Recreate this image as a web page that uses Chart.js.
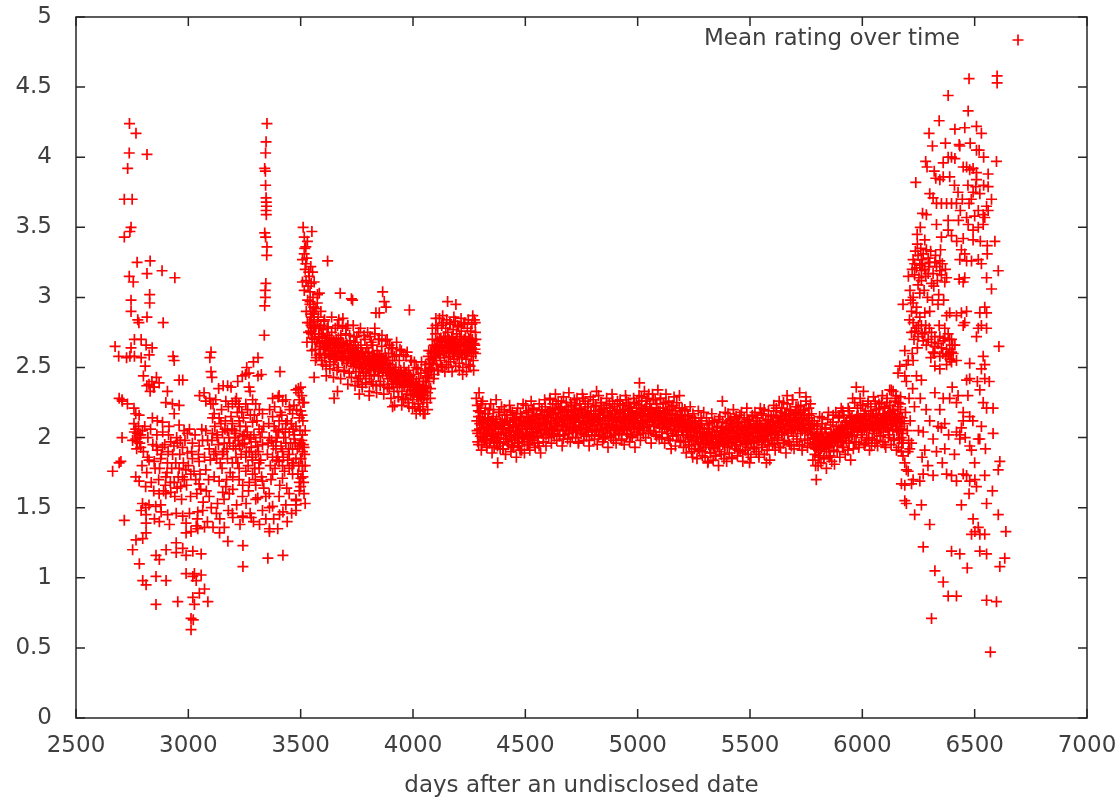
<!DOCTYPE html>
<html>
<head>
<meta charset="utf-8">
<title>Mean rating over time</title>
<script src="https://cdn.jsdelivr.net/npm/chart.js@4.4.1/dist/chart.umd.min.js"></script>
<style>
  html, body { margin: 0; padding: 0; background: #fff; }
</style>
</head>
<body>
<canvas id="ratingChart" width="1120" height="802"></canvas>
<script>
// axis ticks
const xTicks = [2500, 3000, 3500, 4000, 4500, 5000, 5500, 6000, 6500, 7000];
const yTicks = [0, 0.5, 1, 1.5, 2, 2.5, 3, 3.5, 4, 4.5, 5];
const seriesLabel = "Mean rating over time";
const xTitle = "days after an undisclosed date";

// [day, mean rating], one array per stretch of days
const earlyPoints = [
  [2663,1.76],[2674,2.65],[2690,2.58],[2700,1.83],[2705,2.00],[2705,2.27],[2715,1.41],
  [2738,4.24],[2767,4.17],[2737,4.03],[2816,4.02],[2730,3.92],[2715,3.70],[2750,3.70],[2745,3.50],[2715,3.43],[2740,3.47],
  [2772,3.25],[2830,3.26],[2816,3.17],[2883,3.19],[2940,3.14],[2737,3.15],[2755,3.11],[2745,2.98],[2828,3.02],[2828,2.96],
  [2745,2.90],[2775,2.84],[2780,2.82],[2816,2.86],[2888,2.82],
  [2745,2.64],[2760,2.70],[2790,2.70],[2839,2.64],[2812,2.66],[2725,2.57],[2740,2.58],[2760,2.58],[2790,2.57],[2826,2.59],
  [2808,2.51],[2800,2.44],[2838,2.40],[2815,2.37],[2858,2.43],[2845,2.36],[2830,2.33],
  [2932,2.58],[2937,2.55],[2975,2.41],[3101,2.61],[3096,2.57],[3101,2.47],[3105,2.43],[3070,2.32],
  // main cluster
  [2692,2.28],[2706,2.26],[2729,2.24],[2758,2.21],[2766,2.17],[2781,2.16],
  [2758,2.10],[2766,2.06],[2773,2.03],[2781,2.00],[2766,1.99],[2788,2.02],[2773,1.97],[2796,2.05],
  [2788,1.93],[2692,1.82],[2766,1.72],[2781,1.69],[2810,1.65],[2796,1.53],[2810,1.50],[2825,1.52],
  [2825,2.38],[2848,2.36],[2870,2.39],[2907,2.33],[2959,2.41],
  [2840,2.14],[2862,2.12],[2885,2.11],[2914,2.08],
  [2900,2.25],[2929,2.24],[2959,2.23],[2937,2.17],
  [2825,1.84],[2848,1.83],[2877,1.85],[2862,1.91],[2885,1.93],
  [2907,1.82],[2944,1.82],[2959,1.78],
  [2900,1.72],[2937,1.68],[2974,1.72],[2966,1.65],
  [2870,1.60],[2900,1.60],[2922,1.61],[2877,1.52],[2855,1.51],
  [2959,2.09],[2981,2.05],[2996,2.03],[2922,1.97],[2951,1.96],[2974,1.93],
  [2989,1.77],[3011,1.74],[3033,1.70],[3048,1.67],[3055,1.63],
  [2996,1.89],[3018,1.85],[3048,1.83],
  [3018,1.96],[3048,1.94],[3063,1.98],
  [3078,2.26],[3100,2.24],[3122,2.27],[3115,2.17],[3137,2.14],
  [3078,2.05],[3107,2.03],[3130,2.00],[3152,2.04],[3174,2.05],
  [3093,1.92],[3122,1.90],[3152,1.88],[3174,1.85],[3196,1.82],
  [3078,1.77],[3115,1.72],[3137,1.69],[3167,1.65],[3182,1.60],
  [3093,1.58],[3130,1.53],[3159,1.56],
  [3167,2.26],[3196,2.24],[3226,2.22],[3256,2.24],[3286,2.27],
  [3211,2.03],[3241,2.01],[3271,1.99],[3300,1.97],[3330,1.95],
  [3256,1.86],[3286,1.84],[3315,1.82],
  [3226,1.70],[3271,1.68],[3300,1.66],[3330,1.69],
  [3241,1.58],[3300,1.56],[3345,1.58],[3196,1.46],[3241,1.44],
  [3196,2.10],[3226,2.12],[3256,2.08],[3286,2.11],[3315,2.06],[3211,1.92],[3241,1.95],[3271,1.90],[3300,1.88],
  [3226,1.78],[3256,1.76],[3286,1.74],[3315,1.78],
  [3375,2.28],[3404,2.30],[3434,2.27],[3479,2.34],[3494,2.27],
  [3375,2.15],[3404,2.12],[3434,2.10],[3464,2.17],[3494,2.14],
  [3360,2.00],[3390,1.97],[3434,1.96],[3471,1.99],[3494,1.94],[3508,2.02],
  [3375,1.86],[3404,1.83],[3449,1.88],[3479,1.85],[3508,1.80],
  [3375,1.74],[3419,1.71],[3464,1.74],[3494,1.68],[3501,1.71],
  [3360,1.60],[3404,1.58],[3449,1.60],[3479,1.56],[3494,1.62],
  [3375,1.51],[3434,1.52],[3479,1.48],
  [3390,2.05],[3419,2.06],[3449,2.04],[3479,2.08],[3508,1.90],[3419,1.90],[3390,1.92],[3464,1.92],[3508,1.76],[3419,1.80],[3449,1.78],
  [3095,2.28],[3110,2.24],[3155,2.37],[3175,2.37],[3190,2.36],[3270,2.36],[3275,2.33],[3290,2.54],[3310,2.57],
  [3270,2.46],[3255,2.45],[3240,2.44],[3310,2.44],[3325,2.45],[3408,2.47],[3490,2.35],[3490,2.32],[3510,2.25],
  [3400,2.29],[3420,2.26],[3450,2.22],[3470,2.23],[3210,2.26],[3225,2.24],[3300,2.24],[3330,2.17],
  [3500,2.36],[3505,2.30],[3515,2.25],[3500,2.19],[3510,2.12],[3520,2.05],[3505,1.98],[3515,1.93],
  [3500,1.85],[3520,1.80],[3510,1.72],[3500,1.65],[3515,1.60],[3520,1.53],
  // lower tail
  [2790,1.48],[2812,1.45],[2849,1.42],[2879,1.47],[2908,1.45],[2946,1.46],[2975,1.44],[3005,1.46],[3042,1.47],[3064,1.48],
  [2812,1.39],[2871,1.40],[2916,1.38],[2990,1.39],[3035,1.37],
  [2990,1.32],[3012,1.33],[3042,1.35],[3072,1.36],
  [2946,1.25],[2975,1.21],[2767,1.27],[2797,1.28],[2812,1.32],
  [2752,1.20],[2856,1.16],[2871,1.13],[2782,1.10],[2901,1.20],[2946,1.18],[2990,1.16],[3020,1.19],[3057,1.17],
  [2797,0.98],[2812,0.95],[2901,0.98],[2856,1.01],[2990,1.03],[3027,1.03],[3057,1.02],[3020,1.01],[3035,0.98],[3072,0.92],[3049,0.89],
  [2856,0.81],[2953,0.83],[3020,0.86],[3027,0.81],[3087,0.83],[3012,0.71],[3012,0.63],[3022,0.70],
  [3139,1.32],[3176,1.26],[3243,1.23],[3243,1.08],[3354,1.14],[3421,1.16],[3198,1.43],[3243,1.43],[3280,1.43],
  [3317,1.38],[3361,1.35],[3398,1.35],[3361,1.33],[3480,1.52],
  [3153,1.61],[3198,1.63],[3257,1.53],[3309,1.57],[3361,1.50],[3406,1.45],[3421,1.47],[3480,1.55],
  // narrow spike
  [3350,4.24],[3346,4.11],[3344,4.03],[3340,3.92],[3343,3.90],[3344,3.80],[3346,3.71],[3347,3.68],[3348,3.65],
  [3346,3.62],[3347,3.59],[3340,3.46],[3344,3.43],[3350,3.36],[3349,3.30],[3345,3.10],[3342,3.05],[3343,3.00],
  [3340,2.94],[3338,2.73]
];

const earlyFill = [
  [3105,1.98],[3118,2.08],[3126,1.85],[3134,1.95],[3145,2.10],[3150,1.78],[3160,1.96],[3165,2.12],[3172,1.92],[3180,2.00],
  [3186,1.75],[3190,2.15],[3200,1.94],[3205,2.05],[3212,1.86],[3218,2.18],[3222,1.98],[3230,2.08],[3235,1.88],[3245,2.14],
  [3250,1.96],[3262,2.04],[3266,1.80],[3276,2.16],[3280,1.93],[3292,2.02],[3296,1.78],[3305,2.12],[3312,1.90],[3320,2.00],
  [3326,1.72],[3335,2.08],[3352,1.88],[3358,2.10],[3365,1.80],[3370,1.98],[3382,2.08],[3386,1.78],[3395,2.00],[3398,1.86],
  [3410,2.18],[3413,1.94],[3425,2.00],[3428,1.76],[3440,2.12],[3442,1.84],[3455,1.96],[3458,2.10],[3468,1.82],[3472,2.02],
  [3485,1.92],[3488,1.74],[3497,2.05],[3502,1.85],[3512,1.95],
  [2800,1.90],[2815,1.75],[2820,2.00],[2835,1.68],[2842,1.95],[2852,1.78],[2860,2.02],[2868,1.70],[2880,1.88],[2890,1.62],
  [2895,1.95],[2905,1.75],[2912,2.02],[2920,1.68],[2930,1.88],[2940,1.58],[2948,2.00],[2955,1.72],[2962,1.88],[2970,1.56],
  [2978,1.82],[2985,1.98],[2992,1.66],[3000,1.80],[3005,2.06],[3010,1.58],[3015,1.90],[3025,1.76],[3030,2.02],[3038,1.60],
  [3045,1.88],[3052,1.74],[3060,2.06],[3066,1.54],[3072,1.86],[3080,1.62],[3086,1.98],[3090,1.70],[3098,1.84],[3102,1.50],
  [3040,1.42],[3085,1.40],[3110,1.36],[3125,1.46],[3140,1.42],[3160,1.36],[3178,1.48],[3215,1.52],[3230,1.38],[3275,1.46],
  [3290,1.40],[3330,1.48],[3345,1.42],[3380,1.42],[3440,1.40],[3460,1.46],[3050,2.30],[3135,2.35],[3220,2.40],[3260,2.50],
  [3108,2.14],[3114,1.88],[3128,2.02],[3142,1.82],[3148,2.20],[3157,1.90],[3163,2.06],[3170,1.70],[3178,2.22],[3184,1.96],
  [3194,2.06],[3198,1.72],[3208,2.00],[3214,2.28],[3220,1.82],[3228,1.94],[3238,2.18],[3242,1.66],[3248,2.02],[3258,1.90],
  [3264,2.20],[3268,1.62],[3278,2.00],[3284,1.86],[3294,2.16],[3298,1.70],[3308,1.94],[3316,2.20],[3322,1.84],[3328,2.04],
  [3336,1.64],[3355,1.96],[3362,2.20],[3368,1.70],[3378,1.94],[3384,2.22],[3392,1.84],[3402,2.04],[3407,1.66],[3416,2.16],
  [3423,1.86],[3432,2.04],[3438,1.64],[3446,1.92],[3452,2.20],[3462,1.80],[3466,2.06],[3476,1.96],[3482,2.20],[3492,1.80],
  [3498,1.96],[3506,2.16],[3513,1.68],[3518,1.88],
  [2752,1.98],[2760,2.04],[2770,1.92],[2778,2.08],[2784,1.96],[2794,1.80],[2806,2.08],[2818,1.86],[2832,2.06],[2846,1.62],
  [2858,1.94],[2872,1.78],[2886,2.04],[2898,1.66],[2910,1.90],[2926,1.78],[2936,1.94],[2950,1.64],[2964,1.98],[2982,1.70]
];

const plateauPoints = [
  [3511,3.50],[3516,3.43],[3550,3.47],[3523,3.36],[3516,3.31],[3508,3.27],[3523,3.24],[3545,3.22],[3553,3.18],
  [3538,3.15],[3560,3.11],[3508,3.11],[3516,3.05],[3575,3.02],[3583,3.03],[3531,2.98],[3525,2.90],[3530,2.82],
  [3535,2.75],[3528,2.68],
  [3520,3.20],[3524,3.12],[3527,3.28],[3533,3.08],[3536,3.18],[3542,3.04],[3547,3.10],[3555,3.00],[3530,3.40],[3518,3.35],
  [3541,2.95],[3544,2.88],[3546,2.80],[3548,2.74],[3551,2.68],[3553,2.90],
  [3558,2.84],[3560,2.78],[3562,2.70],[3565,2.63],[3568,2.92],[3570,2.57],[3560,2.43],
  [3578,2.86],[3581,2.74],[3584,2.67],[3587,2.60],[3590,2.80],[3593,2.55],
  [3598,2.72],[3601,2.63],[3604,2.83],[3607,2.57],[3610,2.68],[3613,2.51],
  [3618,2.78],[3621,2.66],[3624,2.59],[3627,2.71],[3630,2.54],[3633,2.62],[3620,3.26],
  [3638,2.75],[3641,2.60],[3644,2.68],[3647,2.52],[3650,2.64],[3649,2.28],[3653,2.56],[3664,2.33],
  [3658,2.70],[3661,2.58],[3664,2.80],[3667,2.50],[3670,2.65],[3673,2.61],
  [3676,3.03],[3679,2.73],[3682,2.62],[3685,2.55],[3688,2.85],[3691,2.67],[3694,2.48],
  [3698,2.60],[3701,2.74],[3704,2.53],[3707,2.66],[3710,2.80],[3713,2.57],[3716,2.46],
  [3720,2.69],[3723,2.58],[3726,2.99],[3729,2.63],[3731,2.98],[3734,2.51],[3737,2.72],
  [3740,2.55],[3743,2.68],[3746,2.47],[3749,2.62],[3752,2.40],[3755,2.58],[3758,2.75],
  [3761,2.31],[3762,2.52],[3765,2.44],[3768,2.66],[3771,2.50],[3774,2.38],[3777,2.60],
  [3780,2.46],[3783,2.56],[3786,2.70],[3789,2.42],[3792,2.53],[3795,2.64],[3805,2.30],
  [3800,2.49],[3803,2.61],[3806,2.44],[3809,2.72],[3812,2.55],[3815,2.40],[3818,2.58],
  [3821,2.66],[3824,2.50],[3827,2.45],[3830,2.78],[3835,2.89],[3833,2.56],[3836,2.37],
  [3840,2.62],[3843,2.52],[3846,2.44],[3850,2.89],[3849,2.70],[3852,2.58],[3855,2.40],
  [3858,2.50],[3861,2.65],[3865,3.04],[3864,2.46],[3867,2.56],[3872,2.97],[3870,2.38],[3876,2.60],
  [3880,2.93],[3879,2.48],[3882,2.55],[3885,2.70],[3888,2.42],[3891,2.60],[3894,2.35],
  [3897,2.52],[3900,2.45],[3903,2.64],[3906,2.38],[3909,2.22],[3909,2.55],[3912,2.47],[3915,2.33],
  [3918,2.58],[3921,2.42],[3924,2.50],[3927,2.68],[3930,2.36],[3933,2.45],[3936,2.29],
  [3939,2.55],[3942,2.40],[3945,2.48],[3948,2.62],[3951,2.33],[3954,2.44],[3957,2.27],
  [3960,2.50],[3963,2.38],[3966,2.46],[3969,2.58],[3972,2.31],[3975,2.42],[3978,2.25],
  [3981,2.48],[3984,2.91],[3984,2.36],[3987,2.44],[3990,2.30],[3993,2.55],[3996,2.40],
  [3999,2.27],[4002,2.45],[4005,2.34],[4008,2.22],[4011,2.38],[4014,2.50],[4017,2.29],
  [4020,2.36],[4023,2.24],[4026,2.42],[4029,2.31],[4032,2.19],[4035,2.46],[4038,2.28],
  [4041,2.34],[4044,2.22],[4047,2.40],[4050,2.30],[4053,2.17],[4056,2.52],[4059,2.36],[4065,2.20],
  [4062,2.44],[4065,2.32],[4068,2.58],[4071,2.40],[4074,2.50],[4077,2.28],
  [4080,2.62],[4083,2.48],[4086,2.70],[4089,2.55],[4092,2.42],[4095,2.66],
  [4098,2.58],[4102,2.85],[4101,2.74],[4104,2.52],[4107,2.65],[4110,2.78],[4113,2.48],
  [4116,2.60],[4119,2.70],[4122,2.55],[4125,2.66],[4128,2.80],[4132,2.87],[4131,2.50],
  [4134,2.62],[4137,2.72],[4140,2.57],[4143,2.68],[4146,2.78],[4149,2.52],[4154,2.97],
  [4152,2.64],[4155,2.75],[4158,2.58],[4161,2.69],[4164,2.82],[4167,2.54],[4170,2.66],
  [4173,2.72],[4176,2.60],[4179,2.77],[4182,2.56],[4185,2.68],[4188,2.83],[4191,2.95],
  [4191,2.62],[4194,2.74],[4197,2.58],[4200,2.66],[4203,2.79],[4206,2.53],[4209,2.70],
  [4212,2.62],[4215,2.76],[4218,2.57],[4221,2.45],[4224,2.68],[4227,2.81],[4230,2.60],
  [4233,2.72],[4236,2.56],[4239,2.66],[4242,2.78],[4245,2.61],[4248,2.52],[4251,2.70],
  [4254,2.64],[4257,2.76],[4260,2.58],[4263,2.69],[4266,2.87],[4268,2.55],[4273,2.84],[4275,2.66],[4278,2.75],[4279,2.60]
];

const plateauFill = [
  [3540,2.82],[3544,2.76],[3548,2.86],[3552,2.71],[3556,2.80],[3560,2.88],[3564,2.74],[3568,2.79],[3572,2.68],[3576,2.83],
  [3580,2.72],[3584,2.78],[3588,2.65],[3592,2.74],[3596,2.69],[3600,2.77],[3604,2.64],[3608,2.71],[3612,2.60],[3616,2.68],
  [3620,2.73],[3624,2.62],[3628,2.67],[3632,2.58],[3636,2.70],[3640,2.64],[3644,2.59],[3648,2.69],[3652,2.62],[3656,2.66],
  [3660,2.57],[3664,2.64],[3668,2.71],[3672,2.60],[3676,2.67],[3680,2.58],[3684,2.68],[3688,2.62],[3692,2.56],[3696,2.65],
  [3700,2.60],[3704,2.67],[3708,2.55],[3712,2.62],[3716,2.58],[3720,2.66],[3724,2.53],[3728,2.61],[3732,2.57],[3736,2.64],
  [3740,2.59],[3744,2.52],[3748,2.60],[3752,2.56],[3756,2.64],[3760,2.50],[3764,2.58],[3768,2.54],[3772,2.61],[3776,2.49],
  [3780,2.57],[3784,2.52],[3788,2.60],[3792,2.47],[3796,2.55],[3800,2.58],[3804,2.51],[3808,2.57],[3812,2.48],[3816,2.54],
  [3820,2.60],[3824,2.53],[3828,2.58],[3832,2.49],[3836,2.55],[3840,2.51],[3844,2.59],[3848,2.47],[3852,2.54],[3856,2.50],
  [3860,2.57],[3864,2.52],[3868,2.48],[3872,2.55],[3876,2.50],[3880,2.57],[3884,2.46],[3888,2.53],[3892,2.49],[3896,2.44],
  [3900,2.50],[3904,2.42],[3908,2.47],[3912,2.40],[3916,2.45],[3920,2.48],[3924,2.39],[3928,2.44],[3932,2.41],[3936,2.47],
  [3940,2.38],[3944,2.43],[3948,2.46],[3952,2.39],[3956,2.43],[3960,2.37],[3964,2.44],[3968,2.40],[3972,2.46],[3976,2.36],
  [3980,2.41],[3984,2.44],[3988,2.37],[3992,2.42],[3996,2.34],[4000,2.39],[4004,2.31],[4008,2.36],[4012,2.33],[4016,2.40],
  [4020,2.30],[4024,2.35],[4028,2.38],[4032,2.29],[4036,2.34],[4040,2.31],[4044,2.37],[4048,2.27],[4052,2.33],[4056,2.40],
  [4060,2.36],[4064,2.43],[4068,2.47],[4072,2.53],[4076,2.49],[4080,2.56],[4084,2.60],[4088,2.53],[4092,2.61],[4096,2.57],
  [4100,2.64],[4104,2.60],[4108,2.69],[4112,2.62],[4116,2.66],[4120,2.59],[4124,2.71],[4128,2.64],[4132,2.68],[4136,2.60],
  [4140,2.65],[4144,2.72],[4148,2.62],[4152,2.69],[4156,2.64],[4160,2.70],[4164,2.61],[4168,2.67],[4172,2.63],[4176,2.71],
  [4180,2.65],[4184,2.60],[4188,2.68],[4192,2.64],[4196,2.70],[4200,2.61],[4204,2.66],[4208,2.72],[4212,2.63],[4216,2.68],
  [4220,2.59],[4224,2.65],[4228,2.70],[4232,2.62],[4236,2.67],[4240,2.60],[4244,2.65],[4248,2.71],[4252,2.62],[4256,2.68],
  [4260,2.64],[4264,2.70],[4268,2.61],[4272,2.67],[4276,2.63],[4280,2.70]
];

const plateauEdge = [
  [3542,2.97],[3550,2.62],[3558,2.93],[3566,2.55],[3574,2.96],[3582,2.59],[3590,2.90],[3598,2.52],[3606,2.84],[3614,2.44],
  [3622,2.79],[3630,2.49],[3638,2.86],[3646,2.43],[3654,2.78],[3662,2.48],[3670,2.84],[3678,2.42],[3686,2.79],[3694,2.47],
  [3702,2.78],[3710,2.38],[3718,2.73],[3726,2.43],[3734,2.80],[3742,2.37],[3750,2.72],[3758,2.42],[3766,2.78],[3774,2.36],
  [3782,2.73],[3790,2.39],[3798,2.75],[3806,2.33],[3814,2.68],[3822,2.38],[3830,2.74],[3838,2.32],[3846,2.70],[3854,2.37],
  [3862,2.73],[3870,2.31],[3878,2.69],[3886,2.36],[3894,2.66],[3902,2.28],[3910,2.64],[3918,2.23],[3926,2.59],[3934,2.29],
  [3942,2.63],[3950,2.23],[3958,2.59],[3966,2.28],[3974,2.61],[3982,2.22],[3990,2.55],[3998,2.21],[4006,2.54],[4014,2.17],
  [4022,2.49],[4030,2.20],[4038,2.54],[4046,2.17],[4054,2.48],[4062,2.25],[4070,2.62],[4078,2.35],[4086,2.78],[4094,2.45],
  [4102,2.80],[4110,2.48],[4118,2.85],[4126,2.51],[4134,2.82],[4142,2.47],[4150,2.84],[4158,2.50],[4166,2.81],[4174,2.47],
  [4182,2.86],[4190,2.51],[4198,2.80],[4206,2.48],[4214,2.85],[4222,2.50],[4230,2.82],[4238,2.47],[4246,2.84],[4254,2.51],
  [4262,2.81],[4270,2.48],[4277,2.82]
];

const flatPoints = [
  [4282,2.28],[4285,2.05],[4288,1.97],[4291,2.19],[4294,2.32],[4297,2.10],[4300,2.01],[4303,2.24],[4306,1.95],[4309,2.14],
  [4313,2.07],[4317,1.99],[4321,2.17],[4325,2.03],[4329,1.94],[4333,2.12],[4337,2.06],[4341,2.20],[4345,1.98],[4349,2.09],
  [4353,2.02],[4357,2.15],[4361,1.93],[4365,2.08],[4369,2.11],[4373,1.97],[4377,1.82],[4381,2.04],[4385,2.18],[4389,1.96],
  [4393,2.07],[4397,2.13],
  [4401,1.92],[4405,2.06],[4409,2.16],[4413,1.99],[4417,2.03],[4421,2.12],[4425,1.95],[4429,2.09],[4433,2.19],[4437,2.01],
  [4441,1.94],[4445,2.07],[4449,2.14],[4453,1.98],[4457,2.05],[4461,2.17],[4465,1.96],[4469,2.10],[4473,2.03],[4477,1.91],
  [4481,2.08],[4485,2.15],[4489,2.00],[4493,2.12],[4497,1.97],[4501,2.06],[4505,2.18],[4509,2.02],[4513,1.95],[4517,2.10],
  [4521,2.13],[4525,1.99],[4529,2.07],[4533,2.20],[4537,2.04],[4541,1.96],[4545,2.11],[4549,2.16],[4553,2.01],[4557,2.08],
  [4561,1.94],[4565,2.14],[4569,2.05],[4573,2.19],[4577,2.09],[4581,2.00],[4585,2.16],[4589,2.22],[4593,2.06],[4597,2.12],
  [4601,2.03],[4605,2.18],[4609,2.27],[4613,2.10],[4617,2.05],[4621,2.21],[4625,2.14],[4629,2.01],[4633,2.17],[4637,2.24],
  [4641,2.08],[4645,2.13],[4649,2.20],[4653,2.02],[4657,2.15],[4661,2.26],[4665,2.09],[4669,1.99],[4673,2.18],[4677,2.12],
  [4681,2.05],[4685,2.22],[4689,2.16],[4693,2.03],[4697,2.10],[4701,2.25],[4705,2.14],[4709,2.00],[4713,2.19],[4717,2.08],
  [4721,2.13],[4725,2.23],[4729,2.04],[4733,2.16],[4737,1.97],[4741,2.11],[4745,2.21],[4749,2.07],[4753,2.15],[4757,2.28],
  [4761,2.02],[4765,2.12],[4769,2.19],[4773,2.06],[4777,2.14],[4781,2.24],[4785,1.98],[4789,2.10],[4793,2.17],[4797,2.05],
  [4801,2.13],[4805,2.22],[4809,2.04],[4813,2.16],[4817,2.33],[4821,2.09],[4825,2.01],[4829,2.19],[4833,2.12],[4837,2.25],
  [4841,2.06],[4845,2.14],[4849,1.99],[4853,2.18],[4857,2.10],[4861,2.23],[4865,2.03],[4869,2.15],[4873,2.08],[4877,2.21],
  [4881,2.00],[4885,2.13],[4889,2.26],[4893,2.07],[4897,2.17],[4901,2.02],[4905,2.11],[4909,2.20],[4913,2.05],[4917,2.15],
  [4921,2.24],[4925,2.08],[4929,1.98],[4933,2.14],[4937,2.19],[4941,2.06],[4945,2.12],[4949,2.27],[4953,2.03],[4957,2.16],
  [4961,2.09],[4965,2.22],[4969,2.01],[4973,2.13],[4977,2.18],[4981,2.07],[4985,2.25],[4989,2.11],[4993,2.04],[4997,2.17],
  [5001,2.10],[5005,2.23],[5008,2.39],[5009,2.06],[5013,2.18],[5017,2.29],[5021,2.12],[5025,2.03],[5029,2.20],[5033,2.15],
  [5037,2.26],[5041,2.08],[5045,2.17],[5049,2.31],[5053,2.11],[5057,2.05],[5061,2.21],[5065,2.14],[5069,2.27],[5073,2.09],
  [5077,2.18],[5081,2.02],[5085,2.24],[5089,2.13],[5093,2.19],[5097,2.07],[5101,2.28],[5105,2.15],[5109,2.04],[5113,2.21],
  [5117,2.11],[5121,2.17],[5125,2.25],[5129,2.06],[5133,2.13],[5137,1.99],[5141,2.20],[5145,2.10],[5149,1.92],[5153,2.16],
  [5157,2.23],[5161,2.05],[5165,2.12],[5169,2.19],[5173,2.02],[5177,2.14],[5181,2.08],[5185,2.21],[5189,1.98],[5193,2.11],
  [5197,2.16],
  [5201,2.04],[5205,2.13],[5209,2.19],[5213,1.97],[5217,2.08],[5221,2.02],[5225,2.15],[5229,1.94],[5233,2.06],[5237,2.11],
  [5241,1.99],[5245,1.86],[5249,2.04],[5253,2.14],[5257,1.95],[5261,2.07],[5265,2.01],[5269,1.92],[5273,2.10],[5277,2.03],
  [5281,1.96],[5285,2.12],[5289,1.90],[5293,2.00],[5297,2.06],[5301,1.93],[5305,1.98],[5309,2.09],[5313,1.83],[5317,1.95],
  [5321,2.04],[5325,1.89],[5329,1.99],[5333,2.11],[5337,1.92],[5341,2.02],[5345,1.87],[5349,1.97],[5353,2.07],[5357,1.94],
  [5361,2.13],[5365,1.90],[5369,2.00],[5373,2.08],[5377,2.26],[5379,1.95],[5383,2.03],[5387,1.88],[5391,1.98],[5395,2.10],
  [5399,1.93],[5403,2.05],[5407,2.12],[5411,1.96],[5415,2.01],[5419,1.86],[5423,2.08],[5427,1.99],[5431,2.14],[5435,1.94],
  [5439,2.03],[5443,2.10],[5447,1.91],[5451,2.00],[5455,2.16],[5459,1.97],[5463,2.06],[5467,1.89],[5471,2.02],[5475,2.11],
  [5479,1.95],[5483,2.04],[5487,2.13],[5491,1.93],[5495,2.01],[5498,1.82],[5503,2.09],[5507,1.96],[5511,2.15],[5515,2.03],
  [5519,1.92],[5523,2.07],[5527,2.12],[5531,1.98],[5535,2.05],[5539,1.88],[5543,2.10],[5547,2.00],[5551,2.17],[5555,1.95],
  [5559,2.04],[5563,2.20],[5567,1.97],[5571,2.08],[5573,1.82],[5577,2.02],[5581,2.13],[5585,1.94],[5589,2.06],[5593,2.11],
  [5597,1.99],
  [5601,2.09],[5605,2.16],[5609,1.96],[5613,2.04],[5617,2.21],[5621,2.00],[5625,2.11],[5629,1.93],[5633,2.07],[5637,2.18],
  [5641,2.02],[5645,2.13],[5649,2.25],[5653,1.98],[5657,2.09],[5661,2.15],[5665,2.30],[5669,2.04],[5673,2.12],[5677,1.95],
  [5681,2.19],[5685,2.08],[5689,2.27],[5693,2.01],[5697,2.14],[5701,2.06],[5705,2.22],[5709,1.97],[5713,2.11],[5717,2.17],
  [5721,2.32],[5725,2.03],[5729,2.13],[5733,1.94],[5737,2.09],[5741,2.20],[5745,2.05],[5749,2.29],[5753,2.12],[5757,1.99],
  [5761,2.16],[5765,2.07],[5769,2.24],[5773,2.02],[5777,2.10],
  [5781,1.95],[5785,2.06],[5789,1.88],[5793,2.01],[5795,1.70],[5797,1.93],[5801,2.09],[5803,1.80],[5805,1.97],[5809,1.86],
  [5813,2.04],[5817,1.92],[5821,2.14],[5825,1.99],[5829,1.85],[5833,1.95],[5837,2.07],[5841,1.90],[5845,2.00],[5849,2.18],
  [5853,1.93],[5857,1.87],[5861,2.03],[5865,1.96],[5869,2.11],[5873,1.91],[5877,2.02],[5881,1.98],
  [5885,2.08],[5889,1.94],[5893,2.04],[5897,2.15],[5901,1.97],[5905,2.07],[5909,2.00],[5913,2.19],[5917,1.93],[5921,2.06],
  [5925,2.11],[5929,1.98],[5933,2.03],[5937,2.21],[5941,1.96],[5945,2.09],[5949,2.14],[5953,2.01],[5957,2.28],[5961,2.07],
  [5965,1.97],[5969,2.12],[5973,2.36],[5977,2.04],[5981,2.16],[5985,1.95],[5989,2.10],[5993,2.23],[5997,2.02],[6001,2.13],
  [6005,2.33],[6009,2.06],[6013,1.96],[6017,2.15],[6021,2.09],[6025,2.24],[6029,2.00],[6033,2.12],[6037,2.19],[6041,1.94],
  [6045,2.08],[6049,2.17],[6053,2.03],[6057,2.26],[6061,2.11],[6065,1.98],[6069,2.14],[6073,2.06],[6077,2.21],[6081,2.01],
  [6085,2.10],[6089,2.30],[6093,2.04],[6097,2.16],[6101,1.95],[6105,2.12],[6109,2.25],[6113,2.07],[6117,2.18],[6121,2.02],
  [6125,2.13],[6129,2.34],[6133,2.09],[6137,2.20],[6141,1.99],[6145,2.15],[6149,2.28],[6153,2.05],[6157,2.17],[6161,1.93],
  [6165,2.11],[6169,2.24],[6173,2.00],[6177,2.14],[6181,1.96]
];

const flatFill = [
  [4284,2.12],[4288,2.03],[4292,2.15],[4296,2.06],[4300,2.18],[4304,2.09],[4308,2.00],[4312,2.11],[4316,2.04],[4320,2.13],
  [4324,1.99],[4328,2.08],[4332,2.02],[4336,2.14],[4340,2.05],[4344,2.10],[4348,2.01],[4352,2.12],[4356,2.06],[4360,1.98],
  [4364,2.10],[4368,2.03],[4372,2.13],[4376,2.00],[4380,2.08],[4384,1.97],[4388,2.11],[4392,2.02],[4396,2.09],
  [4400,2.06],[4404,1.99],[4408,2.10],[4412,2.03],[4416,2.12],[4420,1.97],[4424,2.07],[4428,2.01],[4432,2.11],[4436,2.05],
  [4440,1.98],[4444,2.09],[4448,2.02],[4452,2.13],[4456,2.00],[4460,2.08],[4464,2.04],[4468,1.96],[4472,2.10],[4476,2.03],
  [4480,2.12],[4484,1.99],[4488,2.06],[4492,2.01],[4496,2.09],
  [4500,2.11],[4504,2.02],[4508,2.08],[4512,2.14],[4516,2.01],[4520,2.06],[4524,2.12],[4528,2.03],[4532,2.09],[4536,2.15],
  [4540,2.00],[4544,2.07],[4548,2.04],[4552,2.13],[4556,2.01],[4560,2.10],[4564,2.06],[4568,2.16],[4572,2.03],[4576,2.09],
  [4580,2.13],[4584,2.05],[4588,2.11],[4592,2.02],[4596,2.15],
  [4600,2.10],[4604,2.16],[4608,2.07],[4612,2.19],[4616,2.12],[4620,2.05],[4624,2.17],[4628,2.10],[4632,2.20],[4636,2.08],
  [4640,2.14],[4644,2.06],[4648,2.18],[4652,2.11],[4656,2.21],[4660,2.09],[4664,2.15],[4668,2.05],[4672,2.13],[4676,2.19],
  [4680,2.08],[4684,2.16],[4688,2.10],[4692,2.20],[4696,2.07],[4700,2.13],[4704,2.18],[4708,2.06],[4712,2.15],[4716,2.11],
  [4720,2.19],[4724,2.08],[4728,2.14],[4732,2.05],[4736,2.17],[4740,2.12],[4744,2.09],[4748,2.20],[4752,2.06],[4756,2.14],
  [4760,2.10],[4764,2.18],[4768,2.07],[4772,2.16],[4776,2.11],[4780,2.04],[4784,2.15],[4788,2.09],[4792,2.19],[4796,2.12],
  [4800,2.08],[4804,2.15],[4808,2.11],[4812,2.19],[4816,2.06],[4820,2.13],[4824,2.17],[4828,2.05],[4832,2.14],[4836,2.09],
  [4840,2.20],[4844,2.10],[4848,2.04],[4852,2.16],[4856,2.12],[4860,2.07],[4864,2.18],[4868,2.10],[4872,2.14],[4876,2.05],
  [4880,2.15],[4884,2.09],[4888,2.19],[4892,2.12],[4896,2.06],[4900,2.14],[4904,2.08],[4908,2.17],[4912,2.11],[4916,2.04],
  [4920,2.13],[4924,2.18],[4928,2.09],[4932,2.15],[4936,2.07],[4940,2.12],[4944,2.20],[4948,2.10],[4952,2.05],[4956,2.14],
  [4960,2.17],[4964,2.08],[4968,2.13],[4972,2.19],[4976,2.10],[4980,2.15],[4984,2.06],[4988,2.16],[4992,2.11],[4996,2.18],
  [5000,2.14],[5004,2.08],[5008,2.18],[5012,2.12],[5016,2.21],[5020,2.10],[5024,2.16],[5028,2.07],[5032,2.19],[5036,2.13],
  [5040,2.22],[5044,2.11],[5048,2.17],[5052,2.09],[5056,2.15],[5060,2.20],[5064,2.12],[5068,2.18],[5072,2.08],[5076,2.16],
  [5080,2.13],[5084,2.21],[5088,2.10],[5092,2.17],[5096,2.12],
  [5100,2.19],[5104,2.09],[5108,2.15],[5112,2.11],[5116,2.18],[5120,2.07],[5124,2.14],[5128,2.10],[5132,2.19],[5136,2.08],
  [5140,2.13],[5144,2.16],[5148,2.06],[5152,2.12],[5156,2.17],[5160,2.09],[5164,2.14],[5168,2.05],[5172,2.11],[5176,2.16],
  [5180,2.07],[5184,2.13],[5188,2.09],[5192,2.15],[5196,2.05],
  [5200,2.10],[5204,2.02],[5208,2.08],[5212,2.13],[5216,2.04],[5220,2.09],[5224,2.00],[5228,2.07],[5232,2.12],[5236,2.01],
  [5240,2.06],[5244,2.10],[5248,1.98],[5252,2.05],[5256,2.09],[5260,2.00],[5264,2.04],[5268,2.08],[5272,1.97],[5276,2.03],
  [5280,2.07],[5284,1.99],[5288,2.04],[5292,1.96],[5296,2.02],
  [5300,2.01],[5304,1.95],[5308,2.03],[5312,1.98],[5316,2.06],[5320,1.93],[5324,2.00],[5328,1.96],[5332,2.04],[5336,1.97],
  [5340,1.93],[5344,2.02],[5348,1.99],[5352,2.05],[5356,1.95],[5360,2.01],[5364,1.96],[5368,2.04],[5372,1.98],[5376,2.07],
  [5380,1.97],[5384,2.02],[5388,1.94],[5392,2.05],[5396,1.99],
  [5400,2.03],[5404,1.97],[5408,2.06],[5412,2.00],[5416,2.09],[5420,1.96],[5424,2.04],[5428,1.99],[5432,2.07],[5436,2.01],
  [5440,1.95],[5444,2.05],[5448,2.00],[5452,2.08],[5456,1.98],[5460,2.03],[5464,2.09],[5468,1.97],[5472,2.05],[5476,2.00],
  [5480,2.07],[5484,1.96],[5488,2.02],[5492,2.08],[5496,1.99],[5500,2.04],[5504,1.98],[5508,2.06],[5512,2.01],[5516,2.10],
  [5520,1.97],[5524,2.03],[5528,2.08],[5532,2.00],[5536,2.06],[5540,1.98],[5544,2.04],[5548,2.09],[5552,2.01],[5556,2.07],
  [5560,1.99],[5564,2.05],[5568,2.10],[5572,2.02],[5576,2.07],[5580,1.98],[5584,2.04],[5588,2.09],[5592,2.03],[5596,2.06],
  [5600,2.05],[5604,2.11],[5608,2.03],[5612,2.08],[5616,2.14],[5620,2.05],[5624,2.10],[5628,2.02],[5632,2.12],[5636,2.07],
  [5640,2.15],[5644,2.04],[5648,2.10],[5652,2.06],[5656,2.16],[5660,2.08],[5664,2.12],[5668,2.03],[5672,2.17],[5676,2.09],
  [5680,2.13],[5684,2.05],[5688,2.11],[5692,2.16],[5696,2.07],[5700,2.12],[5704,2.09],[5708,2.17],[5712,2.06],[5716,2.13],
  [5720,2.08],[5724,2.18],[5728,2.10],[5732,2.05],[5736,2.14],[5740,2.09],[5744,2.16],[5748,2.07],[5752,2.12],[5756,2.04],
  [5760,2.10],[5764,2.14],[5768,2.06],[5772,2.09],[5776,2.03],
  [5780,2.00],[5784,1.94],[5788,1.99],[5792,1.92],[5796,1.97],[5800,2.02],[5804,1.93],[5808,1.98],[5812,1.91],[5816,1.97],
  [5820,2.03],[5824,1.94],[5828,1.99],[5832,1.92],[5836,1.96],[5840,2.01],[5844,1.95],[5848,1.99],[5852,1.93],[5856,2.00],
  [5860,1.96],[5864,2.02],[5868,1.97],[5872,2.04],[5876,1.98],[5880,2.01],
  [5884,1.99],[5888,2.04],[5892,1.98],[5896,2.06],[5900,2.01],[5904,2.05],[5908,1.97],[5912,2.08],[5916,2.02],[5920,2.06],
  [5924,2.00],[5928,2.09],[5932,2.03],[5936,2.07],[5940,2.01],[5944,2.10],[5948,2.04],[5952,2.08],[5956,2.02],[5960,2.11],
  [5964,2.06],[5968,2.13],[5972,2.08],[5976,2.15],[5980,2.05],[5984,2.11],[5988,2.07],[5992,2.14],[5996,2.09],[6000,2.04],
  [6004,2.12],[6008,2.17],[6012,2.08],[6016,2.13],[6020,2.05],[6024,2.10],[6028,2.16],[6032,2.07],[6036,2.12],[6040,2.09],
  [6044,2.15],[6048,2.06],[6052,2.11],[6056,2.08],[6060,2.14],[6064,2.05],[6068,2.10],[6072,2.16],[6076,2.09],[6080,2.13],
  [6084,2.06],[6088,2.12],[6092,2.17],[6096,2.08],[6100,2.13],[6104,2.07],[6108,2.15],[6112,2.10],[6116,2.05],[6120,2.12],
  [6124,2.18],[6128,2.09],[6132,2.14],[6136,2.06],[6140,2.12],[6144,2.17],[6148,2.08],[6152,2.13],[6156,2.10],[6160,2.04],
  [6164,2.15],[6168,2.08],[6172,2.12],[6176,2.06],[6180,2.03]
];

const flatEdge = [
  [4286,2.23],[4292,1.95],[4298,2.19],[4304,1.91],[4310,2.26],[4316,1.98],[4322,2.21],[4328,1.93],[4334,2.17],[4340,1.96],
  [4346,2.24],[4352,1.89],[4358,2.20],[4364,1.97],[4370,2.27],[4376,1.94],[4382,2.18],[4388,1.92],[4394,2.22],
  [4400,1.92],[4406,2.20],[4412,1.88],[4418,2.16],[4424,1.95],[4430,2.23],[4436,1.90],[4442,2.18],[4448,1.93],[4454,2.14],
  [4460,1.86],[4466,2.21],[4472,1.94],[4478,2.17],[4484,1.91],[4490,2.24],[4496,1.89],
  [4502,2.23],[4508,1.95],[4514,2.19],[4520,1.91],[4526,2.26],[4532,1.98],[4538,2.21],[4544,1.93],[4550,2.17],[4556,1.96],
  [4562,2.24],[4568,1.89],[4574,2.20],[4580,1.97],[4586,2.27],[4592,1.94],[4598,2.18],
  [4604,2.00],[4610,2.28],[4616,1.96],[4622,2.24],[4628,2.03],[4634,2.31],[4640,1.98],[4646,2.26],[4652,2.01],[4658,2.22],
  [4664,1.94],[4670,2.29],[4676,2.02],[4682,2.25],[4688,1.99],[4694,2.32],[4700,1.97],[4706,2.23],[4712,2.04],[4718,2.27],
  [4724,2.00],[4730,2.28],[4736,1.96],[4742,2.24],[4748,2.03],[4754,2.31],[4760,1.98],[4766,2.26],[4772,2.01],[4778,2.22],
  [4784,1.94],[4790,2.29],[4796,2.02],
  [4802,2.27],[4808,1.99],[4814,2.23],[4820,1.95],[4826,2.30],[4832,2.02],[4838,2.25],[4844,1.97],[4850,2.21],[4856,2.00],
  [4862,2.28],[4868,1.93],[4874,2.24],[4880,2.01],[4886,2.31],[4892,1.98],[4898,2.22],[4904,1.96],[4910,2.26],[4916,2.03],
  [4922,2.27],[4928,1.99],[4934,2.23],[4940,1.95],[4946,2.30],[4952,2.02],[4958,2.25],[4964,1.97],[4970,2.21],[4976,2.00],
  [4982,2.28],[4988,1.93],[4994,2.24],
  [5000,2.02],[5006,2.30],[5012,1.98],[5018,2.26],[5024,2.05],[5030,2.33],[5036,2.00],[5042,2.28],[5048,2.03],[5054,2.24],
  [5060,1.96],[5066,2.31],[5072,2.04],[5078,2.27],[5084,2.01],[5090,2.34],[5096,1.99],
  [5102,2.28],[5108,2.00],[5114,2.24],[5120,1.96],[5126,2.31],[5132,2.03],[5138,2.26],[5144,1.98],[5150,2.22],[5156,2.01],
  [5162,2.29],[5168,1.94],[5174,2.25],[5180,2.02],[5186,2.30],[5192,1.97],[5198,2.21],
  [5204,1.93],[5210,2.20],[5216,1.89],[5222,2.16],[5228,1.95],[5234,2.22],[5240,1.90],[5246,2.17],[5252,1.92],[5258,2.12],
  [5264,1.85],[5270,2.19],[5276,1.91],[5282,2.14],[5288,1.87],[5294,2.18],
  [5300,1.86],[5306,2.14],[5312,1.82],[5318,2.10],[5324,1.89],[5330,2.17],[5336,1.84],[5342,2.12],[5348,1.87],[5354,2.08],
  [5360,1.80],[5366,2.15],[5372,1.88],[5378,2.11],[5384,1.85],[5390,2.18],[5396,1.83],
  [5402,2.17],[5408,1.89],[5414,2.13],[5420,1.85],[5426,2.20],[5432,1.92],[5438,2.15],[5444,1.87],[5450,2.11],[5456,1.90],
  [5462,2.18],[5468,1.83],[5474,2.14],[5480,1.91],[5486,2.21],[5492,1.88],[5498,2.12],[5504,1.86],[5510,2.16],[5516,1.93],
  [5522,2.18],[5528,1.90],[5534,2.14],[5540,1.86],[5546,2.21],[5552,1.93],[5558,2.16],[5564,1.88],[5570,2.12],[5576,1.91],
  [5582,2.19],[5588,1.84],[5594,2.15],
  [5600,1.95],[5606,2.23],[5612,1.91],[5618,2.19],[5624,1.98],[5630,2.26],[5636,1.93],[5642,2.21],[5648,1.96],[5654,2.17],
  [5660,1.89],[5666,2.24],[5672,1.97],[5678,2.20],[5684,1.94],[5690,2.27],[5696,1.92],[5702,2.18],[5708,1.99],[5714,2.22],
  [5720,1.95],[5726,2.23],[5732,1.91],[5738,2.19],[5744,1.98],[5750,2.26],[5756,1.93],[5762,2.21],[5768,1.96],[5774,2.17],
  [5780,1.84],[5786,2.12],[5792,1.80],[5798,2.08],[5804,1.87],[5810,2.15],[5816,1.82],[5822,2.10],[5828,1.85],[5834,2.06],
  [5840,1.78],[5846,2.13],[5852,1.86],[5858,2.09],[5864,1.83],[5870,2.16],[5876,1.81],
  [5882,2.18],[5888,1.90],[5894,2.14],[5900,1.86],[5906,2.21],[5912,1.93],[5918,2.16],[5924,1.88],[5930,2.12],[5936,1.91],
  [5942,2.19],[5948,1.84],[5954,2.15],[5960,1.92],
  [5966,2.25],[5972,1.97],[5978,2.21],[5984,1.93],[5990,2.28],[5996,2.00],[6002,2.23],[6008,1.95],[6014,2.19],[6020,1.98],
  [6026,2.26],[6032,1.91],[6038,2.22],[6044,1.99],[6050,2.29],[6056,1.96],[6062,2.20],[6068,1.94],[6074,2.24],[6080,2.01],
  [6086,2.25],[6092,1.97],[6098,2.21],[6104,1.93],[6110,2.28],[6116,2.00],[6122,2.23],[6128,1.95],[6134,2.19],[6140,1.98],
  [6146,2.26],[6152,1.91],[6158,2.22],[6164,1.99],[6170,2.29],[6176,1.96]
];

const latePoints = [
  [6475,4.56],[6600,4.58],[6600,4.53],[6382,4.44],[6471,4.33],[6342,4.26],[6297,4.17],[6312,4.08],
  [6412,4.20],[6456,4.21],[6508,4.22],[6530,4.17],[6431,4.09],[6434,4.08],[6508,4.05],[6520,4.05],
  [6382,4.00],[6397,4.00],[6412,3.99],[6282,3.97],[6288,3.93],[6597,3.97],
  [6449,3.93],[6464,3.93],[6478,3.91],[6493,3.92],[6508,3.89],
  [6238,3.82],[6327,3.85],[6345,3.84],[6360,3.86],[6389,3.86],[6508,3.84],[6505,3.79],
  [6300,3.74],[6315,3.71],[6426,3.75],[6493,3.75],[6523,3.74],[6560,3.79],
  [6330,3.67],[6352,3.67],[6375,3.67],[6397,3.67],[6419,3.67],[6475,3.67],
  [6516,3.62],[6538,3.59],[6553,3.65],[6560,3.62],[6285,3.59],
  [6330,3.52],[6382,3.55],[6382,3.48],[6397,3.44],[6352,3.43],
  [6464,3.57],[6471,3.52],[6493,3.48],[6516,3.50],[6538,3.52],[6545,3.57],
  [6244,3.45],[6278,3.41],[6285,3.34],[6271,3.31],[6449,3.42],[6441,3.34],[6456,3.31],[6493,3.41],
  [6556,3.37],[6556,3.31],
  [6226,3.27],[6263,3.27],[6300,3.25],[6323,3.25],[6345,3.26],
  [6241,3.21],[6263,3.19],[6293,3.17],[6315,3.17],[6345,3.19],[6375,3.14],[6367,3.11],
  [6434,3.27],[6464,3.26],[6486,3.26],[6516,3.27],[6530,3.24],[6456,3.14],[6449,3.11],[6431,3.13],
  [6553,3.14],[6575,3.06],[6605,3.19],
  [6233,3.24],[6248,3.30],[6263,3.12],[6278,3.20],[6293,3.28],[6308,3.10],[6330,3.22],[6352,3.16],[6233,3.16],[6256,3.23],
  [6248,3.09],[6256,3.03],[6226,3.00],[6181,2.95],
  [6219,2.90],[6241,2.89],[6256,2.86],[6278,2.89],[6300,2.90],
  [6337,2.95],[6375,2.87],[6389,2.89],[6419,2.87],[6441,2.89],[6464,2.90],[6523,2.89],[6545,2.93],[6553,2.89],
  [6226,2.96],[6241,2.93],[6263,2.80],[6278,2.75],[6293,2.70],[6308,2.68],[6323,2.65],[6337,2.67],[6352,2.64],
  [6360,2.69],[6367,2.78],[6382,2.74],[6397,2.70],[6412,2.66],[6404,2.60],[6390,2.56],[6230,2.70],[6245,2.64],[6219,2.75],
  [6226,2.82],[6241,2.78],[6248,2.72],[6271,2.69],[6285,2.66],
  [6308,2.75],[6323,2.72],[6345,2.72],[6367,2.71],[6389,2.63],[6397,2.61],
  [6449,2.80],[6456,2.82],[6508,2.72],[6516,2.78],[6530,2.80],
  [6315,2.61],[6345,2.58],[6375,2.63],[6382,2.59],[6553,2.78],[6608,2.65],
  [6189,2.62],[6204,2.55],[6196,2.52],[6226,2.55],
  [6323,2.51],[6345,2.49],[6375,2.52],[6397,2.54],[6419,2.55],[6478,2.53],
  [6538,2.58],[6545,2.52],[6530,2.49],[6545,2.42],
  [6167,2.51],[6159,2.46],[6189,2.44],[6241,2.44],[6263,2.41],[6464,2.41],[6478,2.42],
  [6122,2.34],[6137,2.33],[6100,2.22],[6150,2.30],[6160,2.25],[6170,2.20],
  [6323,2.32],[6360,2.28],[6389,2.28],[6419,2.25],[6449,2.18],
  [6523,2.34],[6538,2.25],[6553,2.21],[6582,2.21],[6478,2.15],
  [6337,2.08],[6352,2.07],[6367,2.10],[6419,2.04],[6441,2.07],[6434,1.99],[6449,2.12],[6434,2.02],
  [6315,1.99],[6278,1.91],[6367,1.92],[6478,1.94],[6486,1.91],[6516,1.99],[6271,2.04],[6582,2.03],[6523,1.99],
  [6174,1.90],[6181,1.87],[6204,1.90],[6211,1.92],[6219,1.96],
  [6189,1.82],[6196,1.77],[6204,1.76],
  [6174,1.67],[6189,1.66],[6219,1.67],[6226,1.70],[6256,1.69],[6271,1.74],[6315,1.73],
  [6375,1.74],[6397,1.73],[6419,1.69],[6449,1.74],[6464,1.73],[6478,1.69],[6501,1.70],[6508,1.65],
  [6545,1.73],[6605,1.77],[6612,1.83],
  [6189,1.55],[6196,1.53],[6263,1.52],[6233,1.45],[6300,1.38],[6441,1.52],[6475,1.60],[6553,1.53],[6579,1.62],[6605,1.45],
  [6493,1.42],[6516,1.36],[6486,1.31],[6523,1.31],[6545,1.31],[6501,1.33],[6639,1.33],
  [6271,1.22],[6397,1.19],[6434,1.17],[6523,1.19],[6553,1.17],[6467,1.07],[6323,1.05],[6360,0.97],
  [6634,1.14],[6612,1.08],[6382,0.87],[6419,0.87],[6553,0.84],[6597,0.83],[6308,0.71],[6570,0.47]
];

const lateFill = [
  [6205,3.15],[6212,3.05],[6215,2.98],[6222,3.20],[6236,3.33],[6245,3.38],[6252,3.14],[6260,3.35],[6268,3.24],[6275,3.05],
  [6282,3.15],[6290,3.00],[6296,3.22],[6304,3.33],[6312,2.98],[6318,3.08],[6326,3.30],[6334,3.12],[6340,3.02],[6348,3.34],
  [6356,3.24],[6362,2.98],[6370,3.20],
  [6210,2.84],[6222,2.60],[6234,2.76],[6250,2.80],[6266,2.74],[6282,2.80],[6298,2.78],[6305,2.57],[6320,2.60],[6342,2.80],
  [6358,2.60],[6372,2.58],[6388,2.70],[6402,2.66],
  [6196,2.40],[6208,2.28],[6200,2.05],[6192,2.18],[6186,2.10],[6206,1.98],[6213,2.12],[6224,2.35],[6232,2.22],[6250,2.05],
  [6258,2.28],[6266,1.86],[6284,2.20],[6292,1.80],[6300,2.12],[6330,1.90],[6345,2.20],[6356,1.82],[6384,2.02],[6400,2.36],
  [6410,1.88],[6426,2.30],[6458,2.00],[6470,2.30],[6492,2.12],[6500,1.82],[6512,2.40],[6530,2.08],[6548,1.92],[6565,2.40],
  [6420,3.40],[6428,3.55],[6436,3.62],[6445,3.70],[6485,3.70],[6500,3.58],[6525,3.40],[6540,3.80],[6470,3.80],[6410,3.80],
  [6360,3.96],[6370,4.10],[6320,3.90],[6268,3.60],[6258,3.50],[6480,4.10],[6540,4.00],[6560,3.88],[6575,3.70],[6590,3.40]
];

const allPoints = [
  ...earlyPoints, ...earlyFill, ...plateauPoints, ...plateauFill, ...plateauEdge,
  ...flatPoints, ...flatFill, ...flatEdge, ...latePoints, ...lateFill
].map(([day, rating]) => ({ x: day, y: rating }));

const textColor = '#3f3f3f';
const axisFont = { family: 'DejaVu Sans', size: 23 };

// gnuplot style: closed frame, inward ticks on all four sides, key top right
const gnuplotFrame = {
  id: 'gnuplotFrame',
  afterDatasetsDraw(chart) {
    const { ctx, chartArea: a, scales: { x, y } } = chart;
    ctx.save();
    ctx.strokeStyle = '#262626';
    ctx.lineWidth = 1.5;
    ctx.strokeRect(a.left, a.top, a.right - a.left, a.bottom - a.top);
    ctx.beginPath();
    xTicks.forEach(v => {
      const px = x.getPixelForValue(v);
      ctx.moveTo(px, a.bottom); ctx.lineTo(px, a.bottom - 9);
      ctx.moveTo(px, a.top); ctx.lineTo(px, a.top + 9);
    });
    yTicks.forEach(v => {
      const py = y.getPixelForValue(v);
      ctx.moveTo(a.left, py); ctx.lineTo(a.left + 9, py);
      ctx.moveTo(a.right, py); ctx.lineTo(a.right - 9, py);
    });
    ctx.stroke();

    // key
    ctx.font = '23px "DejaVu Sans"';
    ctx.fillStyle = textColor;
    ctx.textAlign = 'right';
    ctx.textBaseline = 'middle';
    ctx.fillText(seriesLabel, a.right - 127, a.top + 22);
    const kx = a.right - 69, ky = a.top + 23;
    ctx.strokeStyle = 'rgb(255, 0, 0)';
    ctx.lineWidth = 1.7;
    ctx.beginPath();
    ctx.moveTo(kx - 5.5, ky); ctx.lineTo(kx + 5.5, ky);
    ctx.moveTo(kx, ky - 5.5); ctx.lineTo(kx, ky + 5.5);
    ctx.stroke();
    ctx.restore();
  }
};

new Chart(document.getElementById('ratingChart'), {
  type: 'scatter',
  data: {
    datasets: [{
      label: seriesLabel,
      data: allPoints,
      pointStyle: 'cross',
      pointRadius: 5.5,
      borderWidth: 1.7,
      borderColor: 'rgb(255, 0, 0)',
      backgroundColor: 'rgb(255, 0, 0)'
    }]
  },
  options: {
    responsive: false,
    animation: false,
    events: [],
    layout: { padding: { left: 0, right: 33, top: 17, bottom: 0 } },
    plugins: {
      legend: { display: false },
      tooltip: { enabled: false }
    },
    scales: {
      x: {
        type: 'linear',
        min: 2500,
        max: 7000,
        afterBuildTicks: scale => { scale.ticks = xTicks.map(v => ({ value: v })); },
        afterFit: scale => {
          scale.height = 84;
          scale.paddingLeft = 0;
          scale.paddingRight = 0;
        },
        ticks: { font: axisFont, color: textColor, padding: 14, maxRotation: 0, autoSkip: false, callback: v => String(v) },
        grid: { display: false, drawTicks: false },
        border: { display: false },
        title: {
          display: true,
          text: xTitle,
          font: axisFont,
          color: textColor,
          padding: { top: 0, bottom: 2 }
        }
      },
      y: {
        min: 0,
        max: 5,
        afterBuildTicks: scale => { scale.ticks = yTicks.map(v => ({ value: v })); },
        afterFit: scale => {
          scale.width = 76;
          scale.paddingTop = 0;
          scale.paddingBottom = 0;
        },
        ticks: { font: axisFont, color: textColor, padding: 24, callback: v => String(v) },
        grid: { display: false, drawTicks: false },
        border: { display: false }
      }
    }
  },
  plugins: [gnuplotFrame]
});
</script>
</body>
</html>
